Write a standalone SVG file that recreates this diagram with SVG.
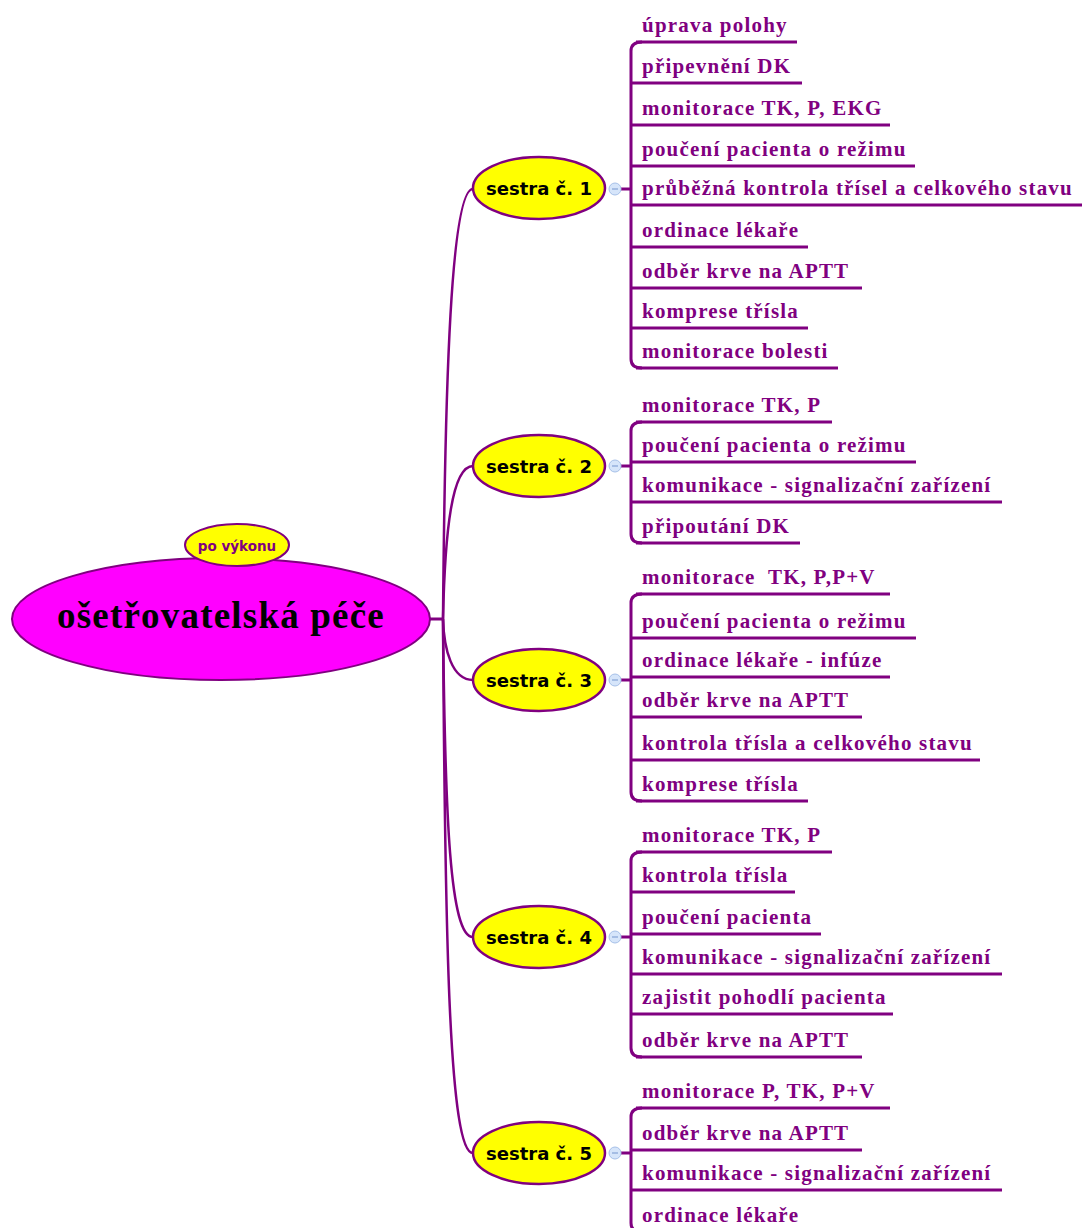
<svg xmlns="http://www.w3.org/2000/svg" width="1082" height="1228" viewBox="0 0 1082 1228">
  <style>
    .root { fill: #ff00ff; stroke: #800080; stroke-width: 2; }
    .root-text { font-family: "Liberation Serif", serif; font-weight: bold; font-size: 37px; letter-spacing: 1.2px; fill: #000; }
    .tag { fill: #ffff00; stroke: #800080; stroke-width: 2; }
    .tag-text { font-family: "DejaVu Sans", sans-serif; font-weight: bold; font-size: 13.5px; fill: #800080; }
    .nurse { fill: #ffff00; stroke: #800080; stroke-width: 2.5; }
    .nurse-text { font-family: "DejaVu Sans", sans-serif; font-weight: bold; font-size: 18px; fill: #000; }
    .toggle { fill: #d6e5fa; stroke: #a6c0e8; stroke-width: 1; }
    .toggle-minus { stroke: #8aa8d8; stroke-width: 1.3; }
    .trunk { fill: none; stroke: #800080; stroke-width: 2.5; }
    .bracket { fill: none; stroke: #800080; stroke-width: 3; }
    .uline { stroke: #800080; stroke-width: 3; }
    .leaf { font-family: "Liberation Serif", serif; font-weight: bold; font-size: 21px; letter-spacing: 1.2px; fill: #800080; }
  </style>

  <!-- connectors: root to nurses, nurses to task brackets -->
  <g id="connectors">
    <path class="bracket" d="M430,619 H444"/>
    <path class="trunk" d="M443,619 C445,380 451,189 473,189"/>
    <path class="trunk" d="M443,619 C445,530 452,466 473,466"/>
    <path class="trunk" d="M443,619 C444,650 452,680 473,680"/>
    <path class="trunk" d="M443,619 C445,820 450,937 473,937"/>
    <path class="trunk" d="M443,619 C445,940 449,1153 473,1153"/>

    <path class="bracket" d="M621,189 H631"/>
    <path class="bracket" d="M642,42 Q631,42 631,51 V359 Q631,368 642,368"/>
    <path class="bracket" d="M621,466 H631"/>
    <path class="bracket" d="M642,422 Q631,422 631,431 V534 Q631,543 642,543"/>
    <path class="bracket" d="M621,680 H631"/>
    <path class="bracket" d="M642,594 Q631,594 631,603 V792 Q631,801 642,801"/>
    <path class="bracket" d="M621,937 H631"/>
    <path class="bracket" d="M642,852 Q631,852 631,861 V1048 Q631,1057 642,1057"/>
    <path class="bracket" d="M621,1153 H631"/>
    <path class="bracket" d="M642,1108 Q631,1108 631,1117 V1223 Q631,1232 642,1232"/>
  </g>

  <!-- central topic -->
  <g id="root">
    <ellipse class="root" cx="221" cy="619" rx="209" ry="61"/>
    <text class="root-text" x="221" y="628" text-anchor="middle">ošetřovatelská péče</text>
  </g>
  <g id="tag-po-vykonu">
    <ellipse class="tag" cx="237" cy="545" rx="52" ry="21"/>
    <text class="tag-text" x="237" y="551" text-anchor="middle">po výkonu</text>
  </g>

  <!-- nurse 1 -->
  <g id="sestra-1">
    <ellipse class="nurse" cx="539" cy="188" rx="66" ry="31"/>
    <text class="nurse-text" x="539" y="195" text-anchor="middle">sestra č. 1</text>
    <circle class="toggle" cx="615" cy="189" r="6"/>
    <line class="toggle-minus" x1="612" y1="189" x2="618" y2="189"/>
  </g>
  <g id="sestra-1-tasks">
    <g id="s1-t1"><text class="leaf" x="642" y="32">úprava polohy</text><line class="uline" x1="636" y1="42" x2="797" y2="42"/></g>
    <g id="s1-t2"><text class="leaf" x="642" y="73">připevnění DK</text><line class="uline" x1="631" y1="83" x2="802" y2="83"/></g>
    <g id="s1-t3"><text class="leaf" x="642" y="115">monitorace TK, P, EKG</text><line class="uline" x1="631" y1="125" x2="890" y2="125"/></g>
    <g id="s1-t4"><text class="leaf" x="642" y="156">poučení pacienta o režimu</text><line class="uline" x1="631" y1="166" x2="915" y2="166"/></g>
    <g id="s1-t5"><text class="leaf" x="642" y="195">průběžná kontrola třísel a celkového stavu</text><line class="uline" x1="631" y1="205" x2="1082" y2="205"/></g>
    <g id="s1-t6"><text class="leaf" x="642" y="237">ordinace lékaře</text><line class="uline" x1="631" y1="247" x2="808" y2="247"/></g>
    <g id="s1-t7"><text class="leaf" x="642" y="278">odběr krve na APTT</text><line class="uline" x1="631" y1="288" x2="862" y2="288"/></g>
    <g id="s1-t8"><text class="leaf" x="642" y="318">komprese třísla</text><line class="uline" x1="631" y1="328" x2="808" y2="328"/></g>
    <g id="s1-t9"><text class="leaf" x="642" y="358">monitorace bolesti</text><line class="uline" x1="636" y1="368" x2="838" y2="368"/></g>
  </g>

  <!-- nurse 2 -->
  <g id="sestra-2">
    <ellipse class="nurse" cx="539" cy="466" rx="66" ry="31"/>
    <text class="nurse-text" x="539" y="473" text-anchor="middle">sestra č. 2</text>
    <circle class="toggle" cx="615" cy="466" r="6"/>
    <line class="toggle-minus" x1="612" y1="466" x2="618" y2="466"/>
  </g>
  <g id="sestra-2-tasks">
    <g id="s2-t1"><text class="leaf" x="642" y="412">monitorace TK, P</text><line class="uline" x1="636" y1="422" x2="832" y2="422"/></g>
    <g id="s2-t2"><text class="leaf" x="642" y="452">poučení pacienta o režimu</text><line class="uline" x1="631" y1="462" x2="916" y2="462"/></g>
    <g id="s2-t3"><text class="leaf" x="642" y="492">komunikace - signalizační zařízení</text><line class="uline" x1="631" y1="502" x2="1002" y2="502"/></g>
    <g id="s2-t4"><text class="leaf" x="642" y="533">připoutání DK</text><line class="uline" x1="636" y1="543" x2="800" y2="543"/></g>
  </g>

  <!-- nurse 3 -->
  <g id="sestra-3">
    <ellipse class="nurse" cx="539" cy="680" rx="66" ry="31"/>
    <text class="nurse-text" x="539" y="687" text-anchor="middle">sestra č. 3</text>
    <circle class="toggle" cx="615" cy="680" r="6"/>
    <line class="toggle-minus" x1="612" y1="680" x2="618" y2="680"/>
  </g>
  <g id="sestra-3-tasks">
    <g id="s3-t1"><text class="leaf" x="642" y="584" style="white-space:pre">monitorace  TK, P,P+V</text><line class="uline" x1="636" y1="594" x2="890" y2="594"/></g>
    <g id="s3-t2"><text class="leaf" x="642" y="628">poučení pacienta o režimu</text><line class="uline" x1="631" y1="638" x2="916" y2="638"/></g>
    <g id="s3-t3"><text class="leaf" x="642" y="667">ordinace lékaře - infúze</text><line class="uline" x1="631" y1="677" x2="890" y2="677"/></g>
    <g id="s3-t4"><text class="leaf" x="642" y="707">odběr krve na APTT</text><line class="uline" x1="631" y1="717" x2="862" y2="717"/></g>
    <g id="s3-t5"><text class="leaf" x="642" y="750">kontrola třísla a celkového stavu</text><line class="uline" x1="631" y1="760" x2="980" y2="760"/></g>
    <g id="s3-t6"><text class="leaf" x="642" y="791">komprese třísla</text><line class="uline" x1="636" y1="801" x2="808" y2="801"/></g>
  </g>

  <!-- nurse 4 -->
  <g id="sestra-4">
    <ellipse class="nurse" cx="539" cy="937" rx="66" ry="31"/>
    <text class="nurse-text" x="539" y="944" text-anchor="middle">sestra č. 4</text>
    <circle class="toggle" cx="615" cy="937" r="6"/>
    <line class="toggle-minus" x1="612" y1="937" x2="618" y2="937"/>
  </g>
  <g id="sestra-4-tasks">
    <g id="s4-t1"><text class="leaf" x="642" y="842">monitorace TK, P</text><line class="uline" x1="636" y1="852" x2="832" y2="852"/></g>
    <g id="s4-t2"><text class="leaf" x="642" y="882">kontrola třísla</text><line class="uline" x1="631" y1="892" x2="795" y2="892"/></g>
    <g id="s4-t3"><text class="leaf" x="642" y="924">poučení pacienta</text><line class="uline" x1="631" y1="934" x2="821" y2="934"/></g>
    <g id="s4-t4"><text class="leaf" x="642" y="964">komunikace - signalizační zařízení</text><line class="uline" x1="631" y1="974" x2="1002" y2="974"/></g>
    <g id="s4-t5"><text class="leaf" x="642" y="1004">zajistit pohodlí pacienta</text><line class="uline" x1="631" y1="1014" x2="893" y2="1014"/></g>
    <g id="s4-t6"><text class="leaf" x="642" y="1047">odběr krve na APTT</text><line class="uline" x1="636" y1="1057" x2="862" y2="1057"/></g>
  </g>

  <!-- nurse 5 -->
  <g id="sestra-5">
    <ellipse class="nurse" cx="539" cy="1153" rx="66" ry="31"/>
    <text class="nurse-text" x="539" y="1160" text-anchor="middle">sestra č. 5</text>
    <circle class="toggle" cx="615" cy="1153" r="6"/>
    <line class="toggle-minus" x1="612" y1="1153" x2="618" y2="1153"/>
  </g>
  <g id="sestra-5-tasks">
    <g id="s5-t1"><text class="leaf" x="642" y="1098">monitorace P, TK, P+V</text><line class="uline" x1="636" y1="1108" x2="890" y2="1108"/></g>
    <g id="s5-t2"><text class="leaf" x="642" y="1140">odběr krve na APTT</text><line class="uline" x1="631" y1="1150" x2="862" y2="1150"/></g>
    <g id="s5-t3"><text class="leaf" x="642" y="1180">komunikace - signalizační zařízení</text><line class="uline" x1="631" y1="1190" x2="1002" y2="1190"/></g>
    <g id="s5-t4"><text class="leaf" x="642" y="1222">ordinace lékaře</text><line class="uline" x1="636" y1="1232" x2="808" y2="1232"/></g>
  </g>
</svg>
